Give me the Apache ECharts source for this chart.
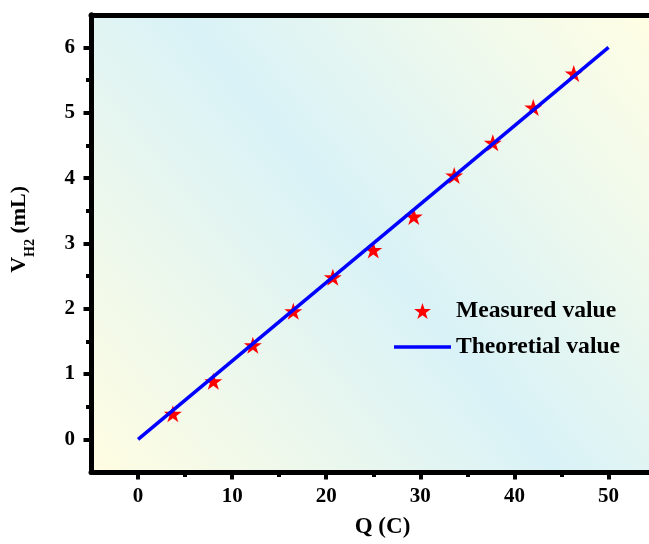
<!DOCTYPE html>
<html>
<head>
<meta charset="utf-8">
<script src="https://cdn.jsdelivr.net/npm/echarts@6/dist/echarts.min.js"></script>
<style>html,body{margin:0;padding:0;background:#fff}#c{width:649px;height:544px}</style>
</head>
<body>
<div id="c"></div>
<script>
// ---- data ----
const qMeasured = [3.7, 8.0, 12.2, 16.5, 20.7, 25.0, 29.3, 33.6, 37.7, 42.0, 46.3];
const vMeasured = [0.39, 0.89, 1.44, 1.96, 2.48, 2.90, 3.41, 4.04, 4.54, 5.08, 5.60];
const qTheory = [0, 50];
const vTheory = [0, 6];
const xTicks = [0, 10, 20, 30, 40, 50];
const xMinorTicks = [5, 15, 25, 35, 45];
const yTicks = [0, 1, 2, 3, 4, 5, 6];
const yMinorTicks = [0.5, 1.5, 2.5, 3.5, 4.5, 5.5];
const seriesNames = ['Measured value', 'Theoretial value'];

const STAR = 'path://M0,-1L0.2245,-0.309L0.951,-0.309L0.363,0.118L0.588,0.809L0,0.382L-0.588,0.809L-0.363,0.118L-0.951,-0.309L-0.2245,-0.309Z';
const LINE_ICON = 'path://M0,0H57V3.5H0Z';
const FONT = 'Liberation Serif';
const labelStyle = {fontFamily: FONT, fontWeight: 'bold', fontSize: 21, color: '#000'};
const xMin = -5, xMax = 54.3, yMin = -0.5, yMax = 6.5;

const chart = echarts.init(document.getElementById('c'), null, {renderer: 'canvas'});
const axisLine = {show: true, onZero: false, lineStyle: {color: '#000', width: 5}};
chart.setOption({
  animation: false,
  grid: {
    left: 88.5, top: 14.8, right: 0, height: 457.9,
    show: true, borderWidth: 0,
    backgroundColor: new echarts.graphic.LinearGradient(0, 1, 1, 0, [
      {offset: 0, color: '#fffde2'},
      {offset: 0.5, color: '#d9f2f7'},
      {offset: 1, color: '#fffee4'}
    ])
  },
  xAxis: [
    {type: 'value', min: xMin, max: xMax, position: 'bottom',
     axisLine: axisLine, splitLine: {show: false},
     axisTick: {show: true, customValues: xTicks, length: 7.5, lineStyle: {color: '#000', width: 4}},
     axisLabel: {customValues: xTicks, margin: 14, ...labelStyle},
     name: 'Q (C)', nameLocation: 'middle', nameGap: 44,
     nameTextStyle: {fontFamily: FONT, fontWeight: 'bold', fontSize: 23, color: '#000', padding: [0, 0, 0, 25]}},
    {type: 'value', min: xMin, max: xMax, position: 'bottom',
     axisLine: {show: false, onZero: false}, splitLine: {show: false},
     axisTick: {show: true, customValues: xMinorTicks, length: 5, lineStyle: {color: '#000', width: 4}},
     axisLabel: {show: false}},
    {type: 'value', min: xMin, max: xMax, position: 'top',
     axisLine: axisLine, splitLine: {show: false},
     axisTick: {show: false}, axisLabel: {show: false}}
  ],
  yAxis: [
    {type: 'value', min: yMin, max: yMax, position: 'left',
     axisLine: axisLine, splitLine: {show: false},
     axisTick: {show: true, customValues: yTicks, length: 7.5, lineStyle: {color: '#000', width: 4}},
     axisLabel: {customValues: yTicks, margin: 16, ...labelStyle},
     name: '{v|V}{s|H2}{v| (mL)}', nameLocation: 'middle', nameGap: 54,
     nameTextStyle: {padding: [0, 0, 0, 28],
       rich: {
         v: {fontFamily: FONT, fontWeight: 'bold', fontSize: 22, color: '#000', lineHeight: 36, verticalAlign: 'middle'},
         s: {fontFamily: FONT, fontWeight: 'bold', fontSize: 14, color: '#000', lineHeight: 14, verticalAlign: 'bottom'}
       }}},
    {type: 'value', min: yMin, max: yMax, position: 'left',
     axisLine: {show: false, onZero: false}, splitLine: {show: false},
     axisTick: {show: true, customValues: yMinorTicks, length: 5, lineStyle: {color: '#000', width: 4}},
     axisLabel: {show: false}}
  ],
  legend: {
    data: [{name: seriesNames[0], icon: STAR}, {name: seriesNames[1], icon: LINE_ICON}],
    orient: 'vertical', left: 394, top: 299, padding: 0, itemGap: 12,
    itemWidth: 57, itemHeight: 16, symbolKeepAspect: true,
    textStyle: {fontFamily: FONT, fontWeight: 'bold', fontSize: 23.6, color: '#000', lineHeight: 24}
  },
  series: [
    {name: seriesNames[0], type: 'scatter', xAxisIndex: 0, yAxisIndex: 0,
     symbol: STAR, symbolSize: [18, 17],
     itemStyle: {color: '#ff0000', opacity: 1},
     data: qMeasured.map((q, i) => [q, vMeasured[i]]), z: 2},
    {name: seriesNames[1], type: 'line', xAxisIndex: 0, yAxisIndex: 0,
     symbol: 'none', showSymbol: false,
     lineStyle: {color: '#0000ff', width: 3.5}, itemStyle: {color: '#0000ff'},
     data: qTheory.map((q, i) => [q, vTheory[i]]), z: 3}
  ]
});
</script>
</body>
</html>
